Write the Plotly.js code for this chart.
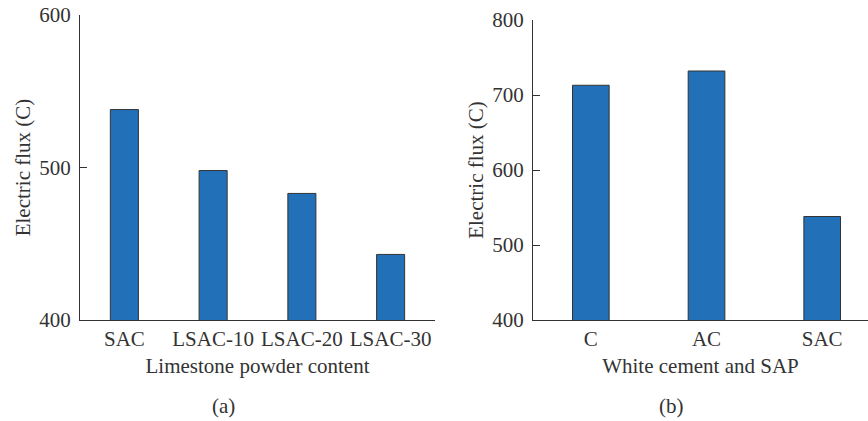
<!DOCTYPE html>
<html>
<head>
<meta charset="utf-8">
<script src="https://cdn.plot.ly/plotly-3.0.1.min.js"></script>
<style>html,body{margin:0;padding:0;background:#fff;}#chart{width:868px;height:421px;}</style>
</head>
<body>
<div id="chart"></div>
<script>
const catsA = ["SAC", "LSAC-10", "LSAC-20", "LSAC-30"];
const valsA = [538, 498, 483, 443];
const catsB = ["C", "AC", "SAC"];
const valsB = [713, 732, 538];
const yTicksA = [400, 500, 600];
const yTicksB = [400, 500, 600, 700, 800];

const W = 868, H = 421;
const fontFam = "Liberation Serif, Times New Roman, serif";
const txt = "#333333";
const barColor = "#2170b8";
const edge = "#333333";
const FS = 21;

const traces = [
  {type: "bar", x: catsA, y: valsA, xaxis: "x", yaxis: "y", width: 0.316,
   marker: {color: barColor, line: {color: edge, width: 1}}, showlegend: false, hoverinfo: "x+y"},
  {type: "bar", x: catsB, y: valsB, xaxis: "x2", yaxis: "y2", width: 0.317,
   marker: {color: barColor, line: {color: edge, width: 1}}, showlegend: false, hoverinfo: "x+y"}
];

function yax(range, ticks, top) {
  return {
    domain: [1 - 320 / H, 1 - top / H], range: range, tickvals: ticks, ticktext: ticks.map(String),
    ticks: "inside", ticklen: 7, tickwidth: 1, tickcolor: edge,
    showline: true, linecolor: edge, linewidth: 1, showgrid: false, zeroline: false,
    tickfont: {family: fontFam, size: FS, color: txt}, ticklabelstandoff: 4,
    title: {text: "Electric flux (C)", font: {family: fontFam, size: FS, color: txt}, standoff: 2},
    fixedrange: true
  };
}
function xax(domain, range, title) {
  return {
    domain: domain, range: range, type: "category",
    ticks: "", showline: true, linecolor: edge, linewidth: 1, showgrid: false, zeroline: false,
    tickfont: {family: fontFam, size: FS, color: txt},
    title: {text: title, font: {family: fontFam, size: FS, color: txt}, standoff: 8},
    fixedrange: true
  };
}

const layout = {
  width: W, height: H,
  margin: {l: 0, r: 0, t: 0, b: 0},
  paper_bgcolor: "#ffffff", plot_bgcolor: "#ffffff",
  font: {family: fontFam, color: txt},
  xaxis: xax([80 / W, 435 / W], [-0.5, 3.5], "Limestone powder content"),
  yaxis: Object.assign(yax([400, 600], yTicksA, 15), {anchor: "x"}),
  xaxis2: Object.assign(xax([533 / W, 1], [-0.5, 2.396], "White cement and SAP"), {anchor: "y2"}),
  yaxis2: Object.assign(yax([400, 800], yTicksB, 20), {anchor: "x2"}),
  annotations: [
    {text: "(a)", xref: "paper", yref: "paper", x: 223 / W, y: 1 - 406 / H, showarrow: false,
     font: {family: fontFam, size: FS, color: txt}, xanchor: "center", yanchor: "middle"},
    {text: "(b)", xref: "paper", yref: "paper", x: 671 / W, y: 1 - 406 / H, showarrow: false,
     font: {family: fontFam, size: FS, color: txt}, xanchor: "center", yanchor: "middle"}
  ]
};
layout.xaxis.anchor = "y";

Plotly.newPlot("chart", traces, layout, {displayModeBar: false, staticPlot: true});
</script>
</body>
</html>
